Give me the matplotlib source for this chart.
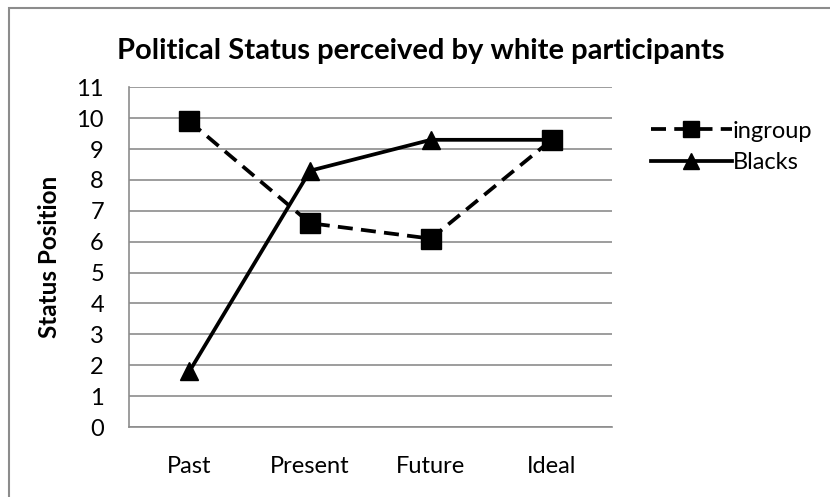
import matplotlib.pyplot as plt
from matplotlib.patches import Rectangle

plt.rcParams['font.family'] = ['Lato', 'DejaVu Sans']

periods = ['Past', 'Present', 'Future', 'Ideal']
ingroup = [9.9, 6.6, 6.1, 9.3]
blacks = [1.8, 8.3, 9.3, 9.3]
y_ticks = list(range(0, 12))

fig = plt.figure(figsize=(8.3, 4.97), dpi=100)
ax = fig.add_axes([0.1554, 0.1408, 0.5819, 0.6835])

x = list(range(len(periods)))
ax.plot(x, ingroup, color='black', lw=2.7, ls=(0, (4, 2.2)), marker='s', ms=15,
        label='ingroup', zorder=3)
ax.plot(x, blacks, color='black', lw=2.7, marker='^', ms=13, label='Blacks', zorder=3)

ax.set_xlim(-0.5, len(periods) - 0.5)
ax.set_ylim(0, 11)
ax.set_yticks(y_ticks)
ax.set_xticks(x)
ax.set_xticklabels(periods)
ax.tick_params(axis='both', length=0, labelsize=17)
ax.tick_params(axis='x', pad=21)
ax.tick_params(axis='y', pad=18)
ax.grid(axis='y', color='#8c8c8c', lw=1.2)
ax.set_axisbelow(True)
for side in ['top', 'right']:
    ax.spines[side].set_visible(False)
for side in ['left', 'bottom']:
    ax.spines[side].set_color('#8c8c8c')
    ax.spines[side].set_linewidth(1.2)

ax.set_ylabel('Status Position', fontsize=17.5, fontweight='bold', labelpad=11)
fig.text(0.507, 0.897, 'Political Status perceived by white participants',
         ha='center', va='center', fontsize=21, fontweight='bold')

leg = ax.legend(loc='upper left', bbox_to_anchor=(1.062, 0.93), frameon=False,
                fontsize=17, handlelength=3.4, handletextpad=0.05,
                labelspacing=0.45, borderaxespad=0)
for h in leg.legend_handles:
    h.set_markersize(12)

# outer chart border
fig.patches.append(Rectangle((9 / 830, -0.01), 1.0, 1 - 8 / 497 + 0.01,
                             transform=fig.transFigure, fill=False,
                             edgecolor='#8c8c8c', lw=1.5))

fig.savefig('out.png', dpi=100)
